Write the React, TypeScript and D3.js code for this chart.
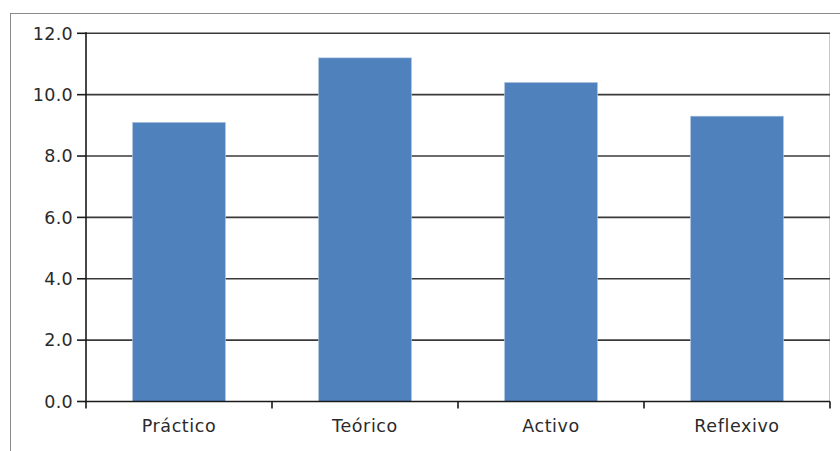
import React from "react";
import * as d3 from "d3";

// Learning-style scores per category
const categories: string[] = ["Práctico", "Teórico", "Activo", "Reflexivo"];
const scores: number[] = [9.1, 11.2, 10.4, 9.3];
const yTicks: number[] = [0, 2, 4, 6, 8, 10, 12];

const WIDTH = 840;
const HEIGHT = 451;
const plot = { left: 86, right: 830, top: 33.3, bottom: 401.5 };

export default function App() {
  const x = d3
    .scaleBand<string>()
    .domain(categories)
    .range([plot.left, plot.right])
    .paddingInner(0.5)
    .paddingOuter(0.25);
  const y = d3.scaleLinear().domain([0, 12]).range([plot.bottom, plot.top]);
  const step = (plot.right - plot.left) / categories.length;
  const catTicks = d3.range(categories.length + 1).map((i) => plot.left + i * step);
  const font = "'DejaVu Sans', sans-serif";

  return (
    <svg
      width={WIDTH}
      height={HEIGHT}
      style={{ position: "absolute", left: 0, top: 0, background: "#fff" }}
    >
      {/* chart frame */}
      <line x1={10} x2={WIDTH} y1={13.5} y2={13.5} stroke="#8a8a8a" strokeWidth={1} />
      <line x1={10.5} x2={10.5} y1={13} y2={HEIGHT} stroke="#8a8a8a" strokeWidth={1} />
      {/* plot area right edge */}
      <line x1={plot.right - 0.5} x2={plot.right - 0.5} y1={plot.top} y2={plot.bottom} stroke="#c8c8c8" strokeWidth={1} />

      {/* horizontal gridlines */}
      {yTicks.slice(1).map((t) => (
        <line
          key={`g${t}`}
          x1={plot.left}
          x2={plot.right}
          y1={y(t)}
          y2={y(t)}
          stroke="#3a3a3a"
          strokeWidth={1.6}
        />
      ))}

      {/* bars */}
      {categories.map((c, i) => (
        <rect
          key={c}
          x={x(c)!}
          y={y(scores[i])}
          width={x.bandwidth()}
          height={y(0) - y(scores[i])}
          fill="#4f81bd"
          stroke="#b8cce4"
          strokeWidth={0.6}
        />
      ))}

      {/* y axis */}
      <line x1={plot.left} x2={plot.left} y1={plot.top - 1} y2={plot.bottom + 1} stroke="#1a1a1a" strokeWidth={1.6} />
      {yTicks.map((t) => (
        <g key={`y${t}`}>
          <line x1={77} x2={plot.left} y1={y(t)} y2={y(t)} stroke="#1a1a1a" strokeWidth={1.6} />
          <text
            x={73}
            y={y(t)}
            dy="0.36em"
            textAnchor="end"
            fontFamily={font}
            fontSize={17.5}
            letterSpacing={0.3}
            fill="#2a2a2a"
          >
            {d3.format(".1f")(t)}
          </text>
        </g>
      ))}

      {/* x axis */}
      <line x1={plot.left} x2={plot.right} y1={plot.bottom} y2={plot.bottom} stroke="#1a1a1a" strokeWidth={1.6} />
      {catTicks.map((tx, i) => (
        <line key={`xt${i}`} x1={tx} x2={tx} y1={plot.bottom} y2={plot.bottom + 7} stroke="#1a1a1a" strokeWidth={1.6} />
      ))}
      {categories.map((c) => (
        <text
          key={`xl${c}`}
          x={x(c)! + x.bandwidth() / 2}
          y={431.5}
          textAnchor="middle"
          fontFamily={font}
          fontSize={17.5}
          letterSpacing={0.6}
          fill="#2a2a2a"
        >
          {c}
        </text>
      ))}
    </svg>
  );
}
